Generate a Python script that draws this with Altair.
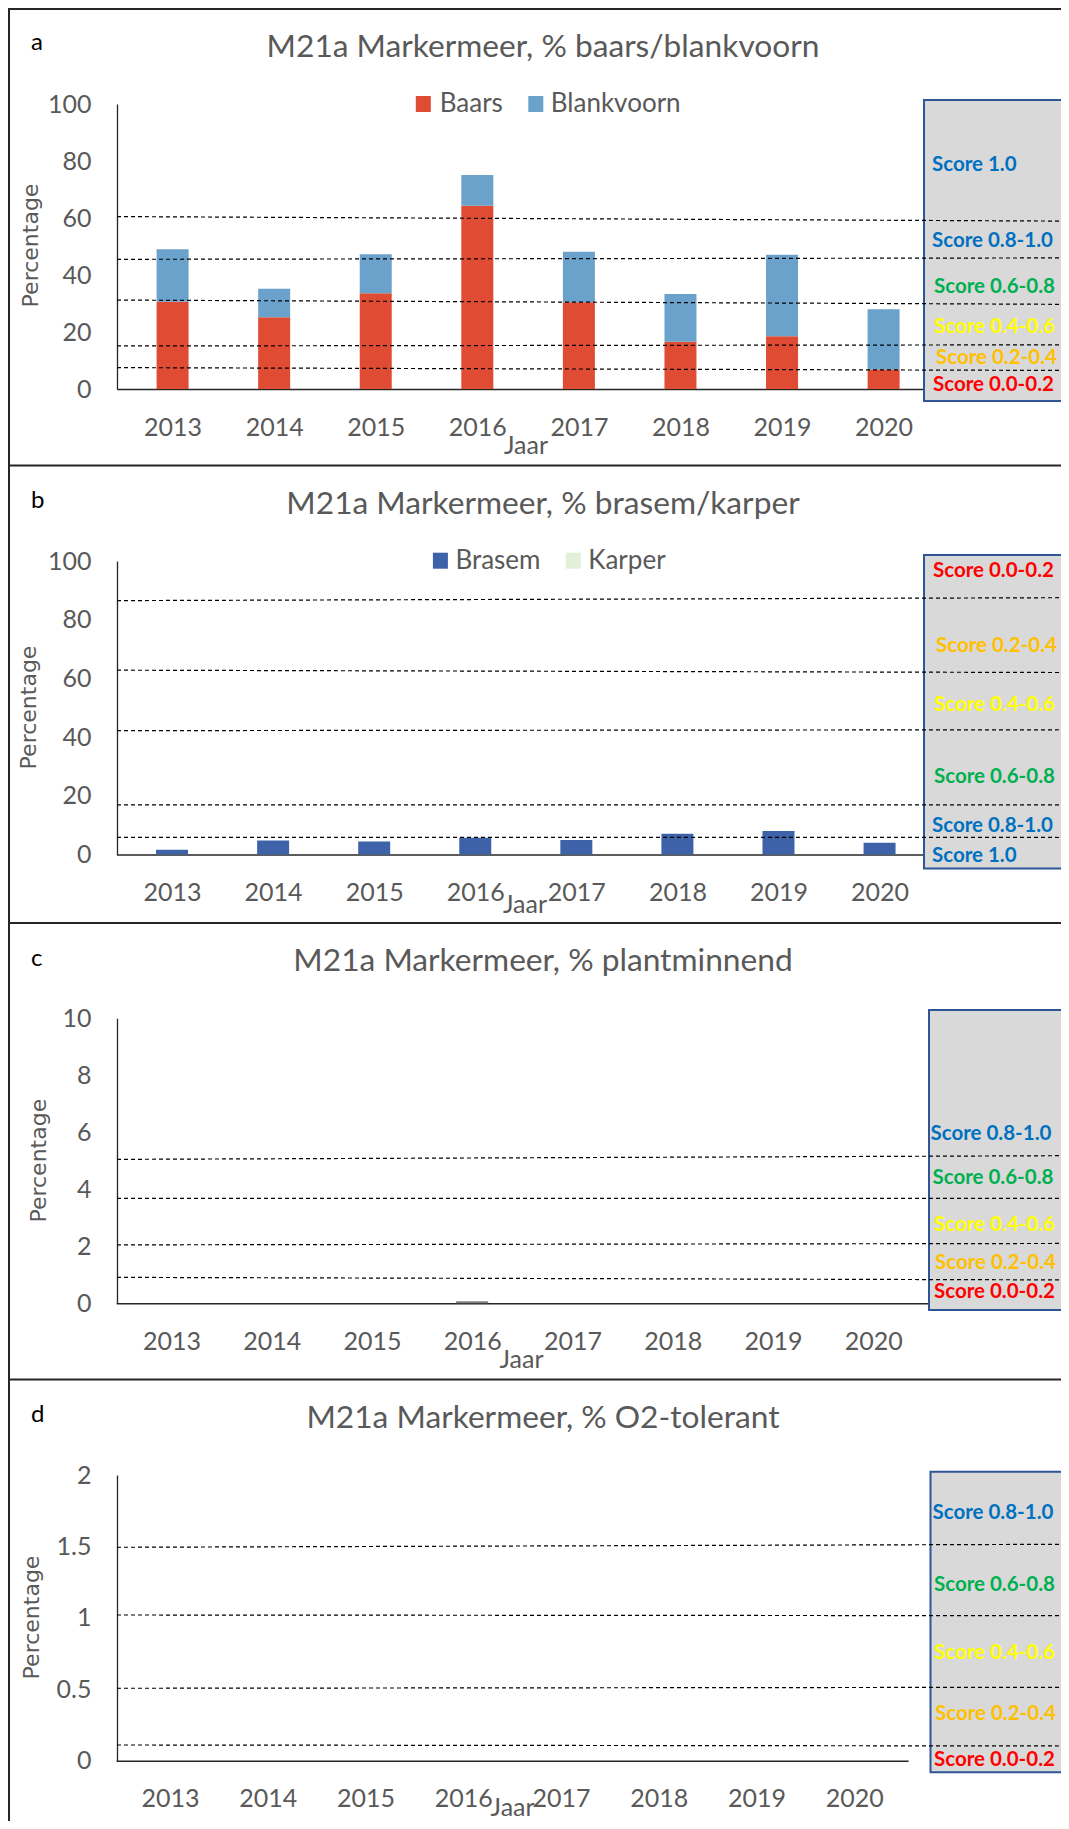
import altair as alt
import pandas as pd

# ---------------- data ----------------
years = [2013, 2014, 2015, 2016, 2017, 2018, 2019, 2020]
baars = [30.6, 25.2, 33.6, 64.3, 30.4, 16.6, 18.5, 6.8]
blankvoorn = [18.4, 10.0, 13.7, 10.8, 17.8, 16.7, 28.6, 21.2]
brasem = [1.6, 4.8, 4.4, 5.7, 4.9, 7.1, 8.0, 4.0]
karper = [0, 0, 0, 0, 0, 0, 0, 0]
plantminnend = [0, 0, 0, 0.07, 0, 0, 0, 0]
o2tolerant = [0, 0, 0, 0, 0, 0, 0, 0]

titles = ["M21a Markermeer, % baars/blankvoorn", "M21a Markermeer, % brasem/karper",
          "M21a Markermeer, % plantminnend", "M21a Markermeer, % O2-tolerant"]
letters = ["a", "b", "c", "d"]
y_ticks_a = [0, 20, 40, 60, 80, 100]
y_ticks_b = [0, 20, 40, 60, 80, 100]
y_ticks_c = [0, 2, 4, 6, 8, 10]
y_ticks_d = [0, 0.5, 1, 1.5, 2]

# class boundaries (value at left end, value at right end of the drawn line)
bounds_a_left = [60.5, 45.5, 31.2, 15.1, 7.5]
bounds_a_right = [58.9, 46.0, 29.7, 15.5, 6.5]
bounds_b_left = [86.5, 62.8, 42.2, 16.9, 5.85]
bounds_b_right = [87.5, 62.0, 42.5, 16.9, 5.8]
bounds_c_left = [5.05, 3.68, 2.05, 0.91]
bounds_c_right = [5.18, 3.68, 2.1, 0.82]
bounds_d_left = [1.494, 1.02, 0.507, 0.11]
bounds_d_right = [1.515, 1.015, 0.514, 0.103]

scores_a = ["Score 1.0", "Score 0.8-1.0", "Score 0.6-0.8", "Score 0.4-0.6", "Score 0.2-0.4", "Score 0.0-0.2"]
scores_b = ["Score 0.0-0.2", "Score 0.2-0.4", "Score 0.4-0.6", "Score 0.6-0.8", "Score 0.8-1.0", "Score 1.0"]
scores_c = ["Score 0.8-1.0", "Score 0.6-0.8", "Score 0.4-0.6", "Score 0.2-0.4", "Score 0.0-0.2"]
scores_d = ["Score 0.8-1.0", "Score 0.6-0.8", "Score 0.4-0.6", "Score 0.2-0.4", "Score 0.0-0.2"]

# ---------------- styles / layout (page pixels) ----------------
W, H = 1053, 1813
P = 8  # page margin -> plot origin
GREY = "#595959"
AXIS = "#262626"
SCORE_COL = {"Score 1.0": "#0070C0", "Score 0.8-1.0": "#0070C0", "Score 0.6-0.8": "#00B050",
             "Score 0.4-0.6": "#FFFF00", "Score 0.2-0.4": "#FFC000", "Score 0.0-0.2": "#FF0000"}

panels = [
    dict(y0=389.0, ytop=104.0, xr=(116.8, 939.4), box=(924, 100, 401), yt=y_ticks_a,
         bl=bounds_a_left, br=bounds_a_right, scores=scores_a,
         sx=[932, 932, 934, 934, 936, 933], sy=[164, 240.3, 286, 326.3, 357, 384.3],
         title_y=57.3, letter_y=50, jaar=(526, 454), perc=(37.5, 245.5)),
    dict(y0=854.5, ytop=561.0, xr=(116.5, 935.1), box=(924, 555, 868.5), yt=y_ticks_b,
         bl=bounds_b_left, br=bounds_b_right, scores=scores_b,
         sx=[933, 936, 934, 934, 932, 932], sy=[570.3, 645, 703.7, 775.5, 824.7, 854.7],
         title_y=514.3, letter_y=508, jaar=(525, 913), perc=(35.5, 707.5)),
    dict(y0=1303.3, ytop=1018.3, xr=(116.25, 928.25), box=(929, 1010, 1310), yt=y_ticks_c,
         bl=bounds_c_left, br=bounds_c_right, scores=scores_c,
         sx=[930.5, 932.5, 934, 935, 934], sy=[1133.3, 1177.3, 1224, 1261.7, 1291],
         title_y=971, letter_y=966, jaar=(521.5, 1368), perc=(45.5, 1160.7)),
    dict(y0=1760.7, ytop=1475.0, xr=(116.1, 908.1), box=(930.5, 1471.7, 1772.3), yt=y_ticks_d,
         bl=bounds_d_left, br=bounds_d_right, scores=scores_d,
         sx=[932.5, 934, 934, 935, 934], sy=[1512.3, 1584.3, 1652.3, 1713.3, 1759],
         title_y=1427.7, letter_y=1421.7, jaar=(512.6, 1816), perc=(39, 1617.5)),
]
ymax = [100, 100, 10, 2]
AXIS_X = 117

series_data = [
    (["Baars", "Blankvoorn"], [baars, blankvoorn], ["#E04B33", "#6AA2CB"]),
    (["Brasem", "Karper"], [brasem, karper], ["#3E62A8", "#E2F0D9"]),
    (["Plantminnend"], [plantminnend], ["#7F7F7F"]),
    (["O2-tolerant"], [o2tolerant], ["#7F7F7F"]),
]


def panel(i):
    p = panels[i]
    names, vals, cols = series_data[i]
    rows = []
    for k, (n, v) in enumerate(zip(names, vals)):
        for yr, val in zip(years, v):
            rows.append({"year": yr, "value": val, "series": n, "ord": k})
    df = pd.DataFrame(rows)
    ys = alt.Scale(domain=[0, ymax[i]], range=[p["y0"] - P, p["ytop"] - P], nice=False, zero=False)
    xs = alt.Scale(domain=[2012.5, 2020.5], range=[p["xr"][0] - P, p["xr"][1] - P], nice=False, zero=False)
    yax = alt.Axis(values=p["yt"], orient="left", offset=-(AXIS_X - P), ticks=False, tickSize=0,
                   grid=False, domainColor=AXIS, domainWidth=1.3, labelFont="Lato", labelFontSize=25,
                   labelColor=GREY, labelPadding=26, title=None, format=".6~g", labelFlush=False)
    xax = alt.Axis(values=years, orient="bottom", offset=(p["y0"] - P) - H, ticks=False, tickSize=0,
                   grid=False, domainColor=AXIS, domainWidth=1.6, labelFont="Lato", labelFontSize=25,
                   labelColor=GREY, labelPadding=46, labelBaseline="alphabetic", title=None,
                   format="d", labelFlush=False, labelOverlap=False)
    bars = alt.Chart(df).mark_bar(size=32).encode(
        x=alt.X("year:Q", scale=xs, axis=xax),
        y=alt.Y("value:Q", scale=ys, axis=yax, stack="zero"),
        color=alt.Color("series:N", scale=alt.Scale(domain=names, range=cols), legend=None),
        order=alt.Order("ord:Q"),
    )
    box = alt.Chart(pd.DataFrame({"k": [0]})).mark_rect(
        fill="#D9D9D9", stroke="#2F5597", strokeWidth=2
    ).encode(x=alt.value(p["box"][0] - P), x2=alt.value(W + 20),
             y=alt.value(p["box"][1] - P), y2=alt.value(p["box"][2] - P))
    ldf = pd.DataFrame({"yl": p["bl"], "yr": p["br"]})
    lines = alt.Chart(ldf).mark_rule(color="black", strokeDash=[4, 3], strokeWidth=1.2).encode(
        x=alt.value(AXIS_X - P), x2=alt.value(1069 - P),
        y=alt.Y("yl:Q", scale=ys, axis=yax), y2="yr:Q")
    return alt.layer(bars, box, lines)


# ---------------- annotations (page pixel positions) ----------------
def txt(df, **kw):
    return alt.Chart(df).mark_text(**kw).encode(
        x=alt.X("x:Q", scale=None, axis=None), y=alt.Y("y:Q", scale=None, axis=None), text="t:N")

title_df = pd.DataFrame({"x": [543 - P] * 4, "y": [p["title_y"] - P for p in panels], "t": titles})
letter_df = pd.DataFrame({"x": [31 - P] * 4, "y": [p["letter_y"] - P for p in panels], "t": letters})
jaar_df = pd.DataFrame({"x": [p["jaar"][0] - P for p in panels], "y": [p["jaar"][1] - P for p in panels],
                        "t": ["Jaar"] * 4})
perc_df = pd.DataFrame({"x": [p["perc"][0] - P for p in panels], "y": [p["perc"][1] - P for p in panels],
                        "t": ["Percentage"] * 4})

score_rows = []
for p in panels:
    for s, x, y in zip(p["scores"], p["sx"], p["sy"]):
        score_rows.append({"x": x - P, "y": y + 1 - P, "t": s, "c": SCORE_COL[s]})
score_df = pd.DataFrame(score_rows)

legend_names = ["Baars", "Blankvoorn", "Brasem", "Karper"]
legend_cols = ["#E04B33", "#6AA2CB", "#3E62A8", "#E2F0D9"]
leg_sw_x = [415.8, 528.3, 432.9, 565.8]
leg_sw_y = [96, 96, 552.7, 552.7]
leg_tx_x = [439.7, 550.8, 455.4, 588.3]
leg_tx_y = [111.7, 111.7, 569.3, 569.3]
sw_df = pd.DataFrame({"x": [v - P for v in leg_sw_x], "x2": [v + 15 - P for v in leg_sw_x],
                      "y": [v - P for v in leg_sw_y], "y2": [v + 16 - P for v in leg_sw_y],
                      "c": legend_cols})
legtxt_df = pd.DataFrame({"x": [v - P for v in leg_tx_x], "y": [v - P for v in leg_tx_y], "t": legend_names})

border_y = [1, 465.5 - P, 923 - P, 1379.5 - P]
border_df = pd.DataFrame({"y": border_y})

titles_l = txt(title_df, font="Lato", fontSize=31.7, color=GREY, align="center", baseline="alphabetic")
letters_l = txt(letter_df, font="Lato", fontSize=24, color="black", align="left", baseline="alphabetic")
jaar_l = txt(jaar_df, font="Lato", fontSize=25, color=GREY, align="center", baseline="alphabetic")
perc_l = txt(perc_df, font="DejaVu Sans", fontSize=22, color=GREY, align="center",
             baseline="alphabetic", angle=270)
score_l = alt.Chart(score_df).mark_text(font="Lato", fontSize=20.5, fontWeight="bold", align="left",
                                        baseline="middle").encode(
    x=alt.X("x:Q", scale=None, axis=None), y=alt.Y("y:Q", scale=None, axis=None), text="t:N",
    color=alt.Color("c:N", scale=None))
sw_l = alt.Chart(sw_df).mark_rect().encode(
    x=alt.X("x:Q", scale=None, axis=None), x2="x2:Q",
    y=alt.Y("y:Q", scale=None, axis=None), y2="y2:Q", color=alt.Color("c:N", scale=None))
legtxt_l = txt(legtxt_df, font="Lato", fontSize=26, color=GREY, align="left", baseline="alphabetic")
hborders = alt.Chart(border_df).mark_rule(color=AXIS, strokeWidth=2).encode(
    y=alt.Y("y:Q", scale=None, axis=None), x=alt.value(0), x2=alt.value(W + 10))
vborder = alt.Chart(pd.DataFrame({"k": [0]})).mark_rule(color=AXIS, strokeWidth=2).encode(
    x=alt.value(1), y=alt.value(0), y2=alt.value(H + 10))

annotations = alt.layer(score_l, titles_l, letters_l, jaar_l, perc_l, sw_l, legtxt_l, hborders, vborder)

chart = alt.layer(panel(0), panel(1), panel(2), panel(3), annotations).resolve_scale(
    x="independent", y="independent", color="independent"
).properties(
    width=W, height=H, autosize=alt.AutoSizeParams(type="none"), padding=0
).configure_view(stroke=None)

chart.save("out.html", embed_options={"renderer": "svg", "actions": False})
